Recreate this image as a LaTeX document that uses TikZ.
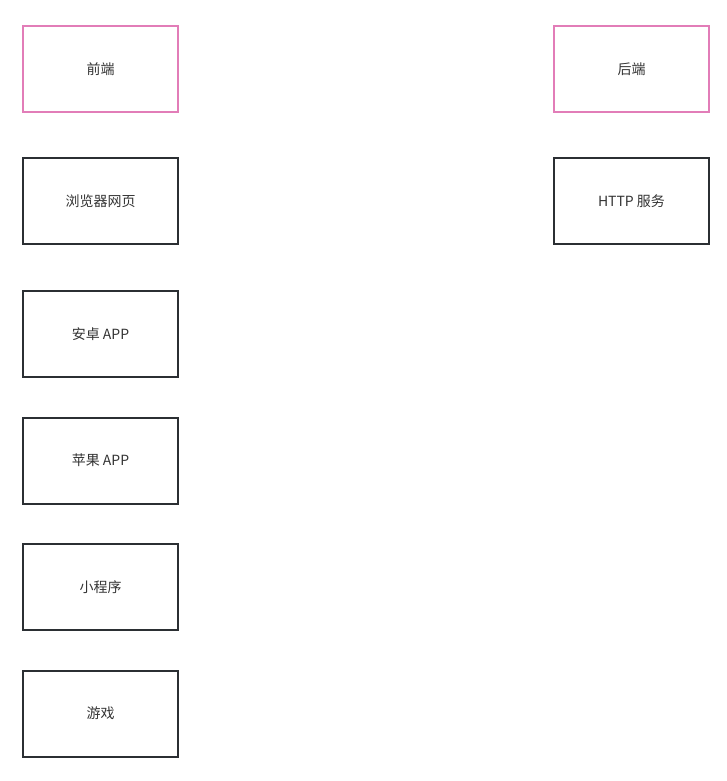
\documentclass[tikz,border=0pt]{standalone}
\usepackage{fontspec}
\setmainfont{Noto Sans CJK SC}
\begin{document}
\begin{tikzpicture}[
    x=1pt, y=-1pt,
    box/.style={rectangle, draw, line width=2pt, minimum width=155pt, minimum height=86pt, align=center, text=textgray, font=\fontsize{14}{16}\selectfont},
    group/.style={box, draw=grouppink},
    item/.style={box, draw=itemdark}
]
\definecolor{grouppink}{HTML}{E27DB8}
\definecolor{itemdark}{HTML}{2B2F33}
\definecolor{textgray}{HTML}{333333}

\useasboundingbox (0,0) rectangle (727,781);

% Frontend column
\node[group] (frontend) at (100.5,69) {前端};
\node[item] (browser) at (100.5,201) {浏览器网页};
\node[item] (android) at (100.5,334) {安卓 APP};
\node[item] (ios) at (100.5,460.5) {苹果 APP};
\node[item] (miniapp) at (100.5,587) {小程序};
\node[item] (game) at (100.5,713.5) {游戏};

% Backend column
\node[group] (backend) at (631.5,69) {后端};
\node[item] (http) at (631.5,201) {HTTP 服务};

\end{tikzpicture}
\end{document}
